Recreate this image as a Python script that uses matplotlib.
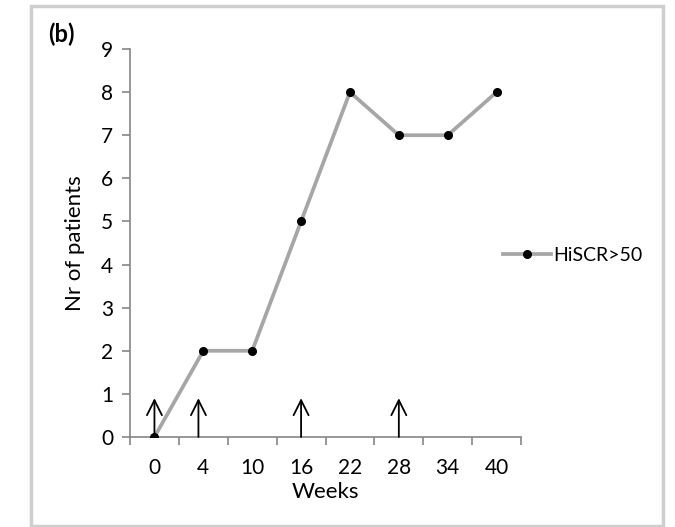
import matplotlib.pyplot as plt
from matplotlib.patches import Rectangle

plt.rcParams['font.family'] = ['Lato', 'DejaVu Sans']

weeks = ['0', '4', '10', '16', '22', '28', '34', '40']
hiscr50 = [0, 2, 2, 5, 8, 7, 7, 8]
# arrows marking treatment time points (category positions)
arrow_x = [0, 0.9, 3, 5]
arrow_top = 0.9

fig = plt.figure(figsize=(6.75, 5.27), dpi=100)
ax = fig.add_axes([0.1926, 0.1708, 0.5793, 0.7362])

x = list(range(len(weeks)))
ax.plot(x, hiscr50, color='#a6a6a6', lw=2.7, marker='o', markersize=5.5,
        markerfacecolor='black', markeredgecolor='black', label='HiSCR>50', zorder=3)

for xa in arrow_x:
    ax.annotate('', xy=(xa, arrow_top), xytext=(xa, 0),
                arrowprops=dict(arrowstyle='->', lw=1.3, color='black', mutation_scale=27,
                                shrinkA=0, shrinkB=0), zorder=4)

ax.set_xlim(-0.5, len(weeks) - 0.5)
ax.set_ylim(0, 9)
ax.set_yticks(range(10))
ax.set_xticks(x)
ax.set_xticklabels(weeks)
ax.set_xticks([i - 0.5 for i in range(len(weeks) + 1)], minor=True)
ax.tick_params(axis='x', which='major', length=0, labelsize=15, pad=15)
ax.tick_params(axis='x', which='minor', length=6, color='#868686', width=1.2)
ax.tick_params(axis='y', length=6, color='#868686', width=1.2, labelsize=15, pad=6)

for s in ['top', 'right']:
    ax.spines[s].set_visible(False)
for s in ['left', 'bottom']:
    ax.spines[s].set_color('#868686')
    ax.spines[s].set_linewidth(1.2)

ax.set_xlabel('Weeks', fontsize=16, labelpad=3)
ax.set_ylabel('Nr of patients', fontsize=16, labelpad=12)

ax.legend(loc='center left', bbox_to_anchor=(0.953, 0.469), frameon=False,
          fontsize=14, handlelength=2.5, handletextpad=0.1, borderpad=0, borderaxespad=0)

fig.text(0.071, 0.934, '(b)', fontsize=17, fontweight='bold', ha='left', va='center')

fig.patches.append(Rectangle((31 / 675, 1 / 527), 632 / 675, 1 - 7 / 527,
                             transform=fig.transFigure, fill=False,
                             edgecolor='#cfcfcf', lw=2.5))

fig.savefig('out.png', dpi=100)
